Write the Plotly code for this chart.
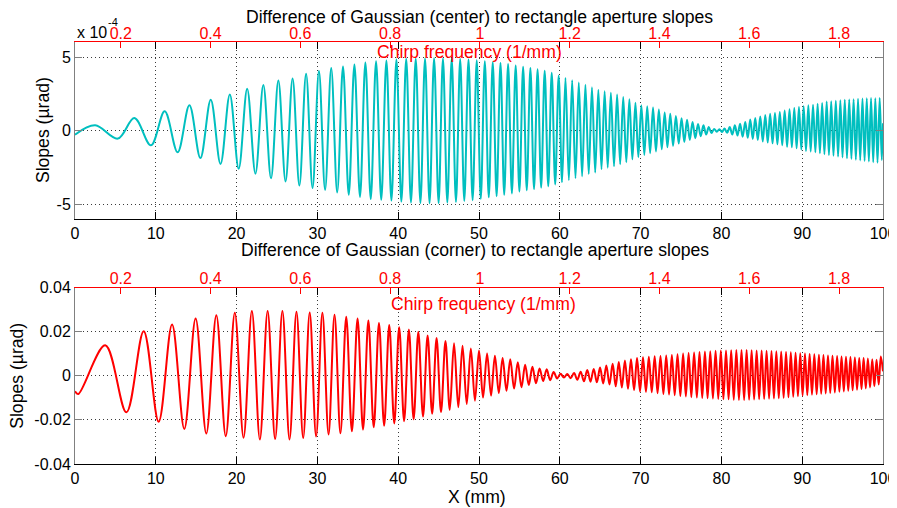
import plotly.graph_objects as go

# ---- data ----
# extremes of the chirp (peaks / troughs) for the centre curve, values in units of 1e-4 urad
top_x = [0,
    2.5, 5.3, 7.35, 9.4, 11.1, 12.7, 14.16, 15.52, 16.8, 18.01,
    19.16, 20.26, 21.31, 22.33, 23.31, 24.26, 25.17, 26.06, 26.93, 27.77,
    28.6, 29.4, 30.19, 30.95, 31.71, 32.45, 33.17, 33.88, 34.58, 35.27,
    35.94, 36.6, 37.26, 37.9, 38.54, 39.16, 39.78, 40.39, 40.99, 41.58,
    42.17, 42.75, 43.32, 43.88, 44.44, 45.0, 45.54, 46.08, 46.62, 47.15,
    47.67, 48.18, 48.7, 49.21, 49.72, 50.22, 50.72, 51.21, 51.7, 52.18,
    52.66, 53.12, 53.6, 54.07, 54.54, 55.0, 55.46, 55.91, 56.36, 56.81,
    57.25, 57.69, 58.13, 58.57, 59.0, 59.43, 59.86, 60.28, 60.7, 61.12,
    61.53, 61.94, 62.35, 62.76, 63.17, 63.58, 63.98, 64.38, 64.77, 65.16,
    65.55, 65.93, 66.32, 66.71, 67.09, 67.47, 67.85, 68.23, 68.61, 68.98,
    69.36, 69.72, 70.09, 70.46, 70.82, 71.18, 71.54, 71.9, 72.26, 72.62,
    72.98, 73.32, 73.67, 74.02, 74.37, 74.72, 75.07, 75.41, 75.75, 76.09,
    76.43, 76.77, 77.11, 77.44, 77.78, 78.11, 78.44, 78.77, 79.1, 79.43,
    79.75, 80.07, 80.39, 80.71, 81.03, 81.35, 81.67, 81.99, 82.31, 82.63,
    82.95, 83.26, 83.57, 83.88, 84.19, 84.5, 84.81, 85.12, 85.43, 85.73,
    86.03, 86.33, 86.63, 86.93, 87.23, 87.53, 87.83, 88.13, 88.43, 88.72,
    89.02, 89.31, 89.6, 89.89, 90.18, 90.47, 90.76, 91.05, 91.34, 91.63,
    91.91, 92.19, 92.47, 92.75, 93.03, 93.31, 93.59, 93.87, 94.16, 94.44,
    94.72, 94.99, 95.27, 95.54, 95.82, 96.09, 96.36, 96.64, 96.91, 97.18,
    97.46, 97.72, 97.99, 98.25, 98.52, 98.79, 99.05, 99.32, 99.59, 99.85,
    100]
top_y = [-0.27,
    0.36, -0.54, 0.86, -1.0, 1.31, -1.47, 1.72, -1.86, 2.1, -2.26,
    2.46, -2.59, 2.84, -2.92, 3.1, -3.24, 3.4, -3.45, 3.55, -3.73,
    3.87, -3.9, 4.05, -4.02, 4.25, -4.2, 4.36, -4.36, 4.5, -4.5,
    4.62, -4.65, 4.71, -4.7, 4.76, -4.75, 4.83, -4.82, 4.88, -4.88,
    4.88, -4.92, 4.9, -4.93, 4.92, -4.92, 4.9, -4.88, 4.88, -4.84,
    4.86, -4.77, 4.83, -4.72, 4.78, -4.63, 4.72, -4.53, 4.65, -4.45,
    4.6, -4.36, 4.52, -4.26, 4.43, -4.14, 4.34, -4.05, 4.26, -3.97,
    4.17, -3.87, 4.07, -3.77, 3.93, -3.65, 3.72, -3.51, 3.58, -3.36,
    3.43, -3.24, 3.27, -3.1, 3.11, -2.95, 2.95, -2.85, 2.78, -2.62,
    2.68, -2.52, 2.57, -2.42, 2.45, -2.28, 2.28, -2.14, 2.14, -1.95,
    1.9, -1.8, 1.73, -1.65, 1.66, -1.53, 1.57, -1.41, 1.44, -1.26,
    1.23, -1.13, 1.15, -1.03, 1.0, -0.88, 0.85, -0.77, 0.74, -0.63,
    0.58, -0.51, 0.46, -0.38, 0.36, -0.26, 0.24, -0.16, 0.12, -0.08,
    0.1, -0.09, 0.14, -0.15, 0.24, -0.26, 0.36, -0.33, 0.47, -0.41,
    0.58, -0.49, 0.75, -0.56, 0.86, -0.64, 0.96, -0.73, 1.07, -0.81,
    1.14, -0.86, 1.2, -0.93, 1.26, -0.99, 1.36, -1.1, 1.45, -1.13,
    1.54, -1.2, 1.6, -1.28, 1.66, -1.38, 1.72, -1.42, 1.76, -1.47,
    1.83, -1.53, 1.88, -1.6, 1.98, -1.66, 2.0, -1.7, 2.03, -1.76,
    2.07, -1.82, 2.1, -1.88, 2.12, -1.92, 2.14, -1.98, 2.16, -2.02,
    2.18, -2.06, 2.2, -2.1, 2.21, -2.14, 2.2, -2.18, 2.22, -2.0,
    0.5]

# extremes for the corner curve, urad
bot_x = [0,
    0.4, 3.74, 6.36, 8.5, 10.35, 12.01, 13.53, 14.93, 16.25, 17.49,
    18.66, 19.78, 20.86, 21.89, 22.88, 23.84, 24.77, 25.67, 26.55, 27.41,
    28.24, 29.05, 29.84, 30.62, 31.38, 32.12, 32.85, 33.57, 34.27, 34.97,
    35.65, 36.31, 36.97, 37.62, 38.26, 38.89, 39.51, 40.12, 40.73, 41.32,
    41.91, 42.49, 43.07, 43.64, 44.2, 44.75, 45.3, 45.85, 46.38, 46.91,
    47.44, 47.96, 48.48, 48.99, 49.5, 50.0, 50.5, 51.0, 51.49, 51.97,
    52.45, 52.92, 53.4, 53.87, 54.34, 54.8, 55.26, 55.71, 56.16, 56.61,
    57.05, 57.5, 57.94, 58.38, 58.81, 59.24, 59.67, 60.09, 60.51, 60.93,
    61.34, 61.76, 62.17, 62.58, 62.99, 63.4, 63.8, 64.2, 64.59, 64.98,
    65.37, 65.76, 66.15, 66.54, 66.92, 67.3, 67.68, 68.06, 68.44, 68.81,
    69.19, 69.56, 69.93, 70.3, 70.66, 71.02, 71.38, 71.74, 72.1, 72.46,
    72.82, 73.17, 73.52, 73.87, 74.22, 74.57, 74.92, 75.26, 75.6, 75.94,
    76.28, 76.62, 76.96, 77.29, 77.63, 77.96, 78.29, 78.62, 78.95, 79.28,
    79.61, 79.93, 80.25, 80.57, 80.89, 81.21, 81.53, 81.85, 82.17, 82.49,
    82.81, 83.12, 83.43, 83.74, 84.05, 84.36, 84.67, 84.98, 85.29, 85.59,
    85.9, 86.2, 86.5, 86.8, 87.1, 87.4, 87.7, 88.0, 88.3, 88.59,
    88.89, 89.18, 89.47, 89.76, 90.05, 90.34, 90.63, 90.92, 91.21, 91.5,
    91.79, 92.07, 92.35, 92.63, 92.91, 93.19, 93.47, 93.75, 94.04, 94.32,
    94.6, 94.87, 95.15, 95.42, 95.7, 95.97, 96.24, 96.52, 96.79, 97.06,
    97.34, 97.6, 97.87, 98.13, 98.4, 98.67, 98.93, 99.2, 99.47, 99.73,
    100]
bot_y = [-0.007,
    -0.0083, 0.0138, -0.0166, 0.0202, -0.0209, 0.0232, -0.0241, 0.0259, -0.0262, 0.0274,
    -0.0274, 0.0285, -0.0281, 0.0293, -0.0289, 0.0293, -0.0287, 0.0293, -0.0289, 0.029,
    -0.0282, 0.0287, -0.0275, 0.0285, -0.0266, 0.0276, -0.0261, 0.0267, -0.0252, 0.026,
    -0.0244, 0.025, -0.0233, 0.0239, -0.0226, 0.023, -0.0216, 0.022, -0.0206, 0.021,
    -0.0198, 0.0199, -0.0185, 0.0183, -0.0172, 0.0171, -0.0165, 0.0157, -0.0155, 0.0147,
    -0.0143, 0.0136, -0.0128, 0.0124, -0.0113, 0.0114, -0.0099, 0.0101, -0.009, 0.0091,
    -0.0078, 0.0081, -0.0068, 0.0075, -0.0058, 0.0061, -0.0052, 0.005, -0.0042, 0.0041,
    -0.0034, 0.0033, -0.0024, 0.0029, -0.002, 0.0017, -0.0012, 0.0009, -0.0008, 0.0008,
    -0.0011, 0.0012, -0.0018, 0.0018, -0.0025, 0.0026, -0.0027, 0.0031, -0.003, 0.0037,
    -0.0035, 0.0046, -0.004, 0.0054, -0.0048, 0.0062, -0.0053, 0.0069, -0.0059, 0.0075,
    -0.0065, 0.008, -0.0071, 0.0084, -0.0073, 0.0086, -0.0075, 0.0088, -0.0079, 0.009,
    -0.0083, 0.0092, -0.0085, 0.0094, -0.0088, 0.0097, -0.0092, 0.0101, -0.0094, 0.0103,
    -0.0097, 0.0105, -0.0099, 0.0108, -0.0101, 0.011, -0.0102, 0.0111, -0.0103, 0.0113,
    -0.0105, 0.0114, -0.0106, 0.0115, -0.0107, 0.0116, -0.0109, 0.0117, -0.011, 0.0117,
    -0.011, 0.0117, -0.0109, 0.0116, -0.0108, 0.0115, -0.0106, 0.0114, -0.0105, 0.0113,
    -0.0104, 0.0112, -0.0103, 0.0111, -0.0102, 0.011, -0.01, 0.0108, -0.0098, 0.0106,
    -0.0095, 0.0104, -0.0093, 0.0102, -0.009, 0.0101, -0.0088, 0.0099, -0.0086, 0.0097,
    -0.0084, 0.0095, -0.0082, 0.0094, -0.008, 0.0092, -0.0078, 0.0091, -0.0076, 0.0089,
    -0.0072, 0.0087, -0.0071, 0.0086, -0.0068, 0.0085, -0.0066, 0.0083, -0.0063, 0.0081,
    -0.006, 0.008, -0.0057, 0.0078, -0.0053, 0.0075, -0.0048, 0.0072, -0.004, 0.0087,
    0.002]

assert len(top_x) == len(top_y) and len(bot_x) == len(bot_y)

x_ticks = [0, 10, 20, 30, 40, 50, 60, 70, 80, 90, 100]
freq_ticks = [0.2, 0.4, 0.6, 0.8, 1.0, 1.2, 1.4, 1.6, 1.8]
freq_labels = ["0.2", "0.4", "0.6", "0.8", "1", "1.2", "1.4", "1.6", "1.8"]
freq_range = [0.098, 1.898]   # chirp frequency at x = 0 and x = 100
top_yticks = [-5, 0, 5]
top_ylabels = ["-5", "0", "5"]
bot_yticks = [-0.04, -0.02, 0, 0.02, 0.04]
bot_ylabels = ["-0.04", "-0.02", "0", "0.02", "0.04"]

FONT = "Arial, Liberation Sans, sans-serif"
CYAN = "#00BFBF"
RED = "#FF0000"
OFF = 8          # the page body adds an 8px margin around the plot div
W, H = 897 - OFF, 508 - OFF

def px_x(p):
    return (p - OFF) / W

def px_y(p):
    return 1 - (p - OFF) / H

xdom = [px_x(75), px_x(883)]
top_dom = [px_y(219), px_y(42.3)]
bot_dom = [px_y(464), px_y(287.5)]

fig = go.Figure()
fig.add_trace(go.Scatter(x=top_x, y=top_y, mode="lines", line=dict(color=CYAN, width=2, shape="spline"),
                         xaxis="x", yaxis="y", showlegend=False))
fig.add_trace(go.Scatter(x=bot_x, y=bot_y, mode="lines", line=dict(color=RED, width=2, shape="spline"),
                         xaxis="x3", yaxis="y3", showlegend=False))
# empty traces so the red frequency axes get drawn
fig.add_trace(go.Scatter(x=[], y=[], xaxis="x2", yaxis="y", showlegend=False))
fig.add_trace(go.Scatter(x=[], y=[], xaxis="x4", yaxis="y3", showlegend=False))

grid = dict(showgrid=True, gridcolor="#3a3a3a", gridwidth=1, griddash="1px,3px", zeroline=False)

def xaxis_bottom(anchor):
    return dict(domain=xdom, anchor=anchor, range=[0, 100], tickvals=x_ticks, automargin=False,
                ticks="inside", ticklen=7, tickcolor="black", showline=True, linecolor="black",
                linewidth=1, mirror="ticks", tickfont=dict(family=FONT, size=16, color="black"), **grid)

def xaxis_top(over, anchor):
    return dict(domain=xdom, anchor=anchor, overlaying=over, side="top", range=freq_range,
                tickvals=freq_ticks, ticktext=freq_labels, ticks="inside", ticklen=6, tickcolor=RED,
                showline=True, linecolor=RED, linewidth=1, showgrid=False, zeroline=False, automargin=False,
                ticklabelstandoff=-4, tickfont=dict(family=FONT, size=16, color=RED))

def yaxis(dom, anchor, rng, vals, labels):
    return dict(domain=dom, anchor=anchor, range=rng, tickvals=vals, ticktext=labels, automargin=False,
                ticks="inside", ticklen=7, tickcolor="#808080", showline=True, linecolor="#808080",
                linewidth=1, mirror="ticks", tickfont=dict(family=FONT, size=16, color="black"), **grid)

fig.update_layout(
    template="none",
    width=W, height=H,
    margin=dict(l=0, r=0, t=0, b=0, pad=0),
    paper_bgcolor="white", plot_bgcolor="white",
    font=dict(family=FONT, size=16, color="black"),
    xaxis=xaxis_bottom("y"),
    xaxis2=xaxis_top("x", "y"),
    yaxis=yaxis(top_dom, "x", [-6, 6], top_yticks, top_ylabels),
    xaxis3=xaxis_bottom("y3"),
    xaxis4=xaxis_top("x3", "y3"),
    yaxis3=yaxis(bot_dom, "x3", [-0.04, 0.04], bot_yticks, bot_ylabels),
)

ann = dict(xref="paper", yref="paper", showarrow=False, xanchor="center", yanchor="middle",
           font=dict(family=FONT, size=17.6, color="black"))
texts = [
    dict(text="Difference of Gaussian (center) to rectangle aperture slopes", x=px_x(479), y=px_y(17)),
    dict(text="Difference of Gaussian (corner) to rectangle aperture slopes", x=px_x(475), y=px_y(250)),
    dict(text="Chirp frequency (1/mm)", x=px_x(469), y=px_y(52), font=dict(family=FONT, size=17.6, color=RED)),
    dict(text="Chirp frequency (1/mm)", x=px_x(483), y=px_y(304), font=dict(family=FONT, size=17.6, color=RED)),
    dict(text="X (mm)", x=px_x(477), y=px_y(497)),
    dict(text="Slopes (\u00b5rad)", x=px_x(42.5), y=px_y(130.6), textangle=-90),
    dict(text="Slopes (\u00b5rad)", x=px_x(17), y=px_y(375.8), textangle=-90),
    dict(text="x 10", x=px_x(75), y=px_y(32.5), xanchor="left", font=dict(family=FONT, size=16, color="black")),
    dict(text="-4", x=px_x(106), y=px_y(21.5), xanchor="left", font=dict(family=FONT, size=11, color="black")),
]
for t in texts:
    a = dict(ann)
    a.update(t)
    fig.add_annotation(**a)

fig.write_html("out.html")
